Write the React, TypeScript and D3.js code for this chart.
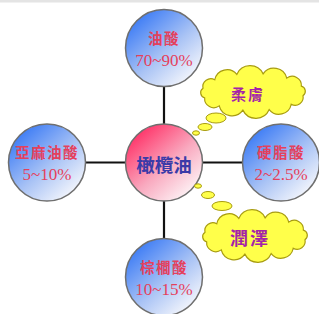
import React from "react";
import * as d3 from "d3";

const centerLabel = "橄欖油";
const acidNames = ["油酸", "亞麻油酸", "硬脂酸", "棕櫚酸"];
const acidRanges = ["70~90%", "5~10%", "2~2.5%", "10~15%"];
const acidDirX = [0, -1, 1, 0];
const acidDirY = [-1, 0, 0, 1];
const notes = ["柔膚", "潤澤"];
const noteSizes = [15, 18];

const W = 319, H = 314;
const x = d3.scaleLinear().domain([-1, 1]).range([47, 281]);
const y = d3.scaleLinear().domain([-1, 1]).range([48, 277]);
const R = 38.5;

function cloudPath(cx: number, cy: number, rx: number, ry: number, n: number) {
  const pts = d3.range(n).map((i) => {
    const t = (2 * Math.PI * i) / n + 0.2;
    return [cx + rx * Math.cos(t), cy + ry * Math.sin(t)];
  });
  let d = `M${pts[0][0]},${pts[0][1]}`;
  for (let i = 0; i < n; i++) {
    const a = pts[i], b = pts[(i + 1) % n];
    const dist = Math.hypot(b[0] - a[0], b[1] - a[1]);
    const r = dist * 0.55;
    d += ` A${r},${r} 0 0 1 ${b[0]},${b[1]}`;
  }
  return d + "Z";
}

const noteCenters = [
  { cx: 253, cy: 92, bubbles: [[216, 118, 10, 5], [205, 127, 7, 3.5], [196, 133, 3.5, 2.2]] },
  { cx: 255, cy: 236, bubbles: [[198, 186, 3.5, 2.2], [208, 195, 6.5, 3.5], [222, 206, 10, 4.5]] },
];

export default function App() {
  const cx0 = x(0), cy0 = y(0);
  return (
    <svg width={W} height={H} style={{ position: "absolute", left: 0, top: 0 }}>
      <defs>
        <linearGradient id="blueG" x1="0.15" y1="0.1" x2="0.85" y2="0.9">
          <stop offset="0" stopColor="#3d7cf5" />
          <stop offset="0.55" stopColor="#a9c3f5" />
          <stop offset="1" stopColor="#f4f6fc" />
        </linearGradient>
        <linearGradient id="pinkG" x1="0.15" y1="0.1" x2="0.85" y2="0.9">
          <stop offset="0" stopColor="#ff3368" />
          <stop offset="0.55" stopColor="#f9a9bf" />
          <stop offset="1" stopColor="#fdf2f5" />
        </linearGradient>
      </defs>
      <rect width={W} height={H} fill="#ffffff" />
      <line x1={0} x2={W} y1={1} y2={1} stroke="#e4e4e4" strokeWidth={3} />
      <line x1={x(-1)} x2={x(1)} y1={cy0} y2={cy0} stroke="#111" strokeWidth={2.2} />
      <line x1={cx0} x2={cx0} y1={y(-1)} y2={y(1)} stroke="#111" strokeWidth={2.2} />
      {acidNames.map((n, i) => {
        const cx = x(acidDirX[i]), cy = y(acidDirY[i]);
        return (
          <g key={n}>
            <circle cx={cx} cy={cy} r={R} fill="url(#blueG)" stroke="#6f6f6f" strokeWidth={1.5} />
            <text x={cx} y={cy - 11} textAnchor="middle" dominantBaseline="central"
              fontFamily="'Noto Sans CJK TC'" fontWeight="bold" fontSize={14.5} letterSpacing={1.5}
              fill="#e5405c">{n}</text>
            <text x={cx} y={cy + 12} textAnchor="middle" dominantBaseline="central"
              fontFamily="'Liberation Serif'" fontSize={17}
              fill="#e5405c">{acidRanges[i]}</text>
          </g>
        );
      })}
      <circle cx={cx0} cy={cy0} r={R} fill="url(#pinkG)" stroke="#6f6f6f" strokeWidth={1.5} />
      <text x={cx0} y={cy0 + 1} textAnchor="middle" dominantBaseline="central"
        fontFamily="'Noto Sans CJK TC'" fontWeight="bold" fontSize={18.5}
        fill="#3b3ba8">{centerLabel}</text>
      {notes.map((t, i) => {
        const c = noteCenters[i];
        return (
          <g key={t}>
            {c.bubbles.map((b, j) => (
              <ellipse key={j} cx={b[0]} cy={b[1]} rx={b[2]} ry={b[3]} fill="#ffff4a" stroke="#a89c10" strokeWidth={1} />
            ))}
            <path d={cloudPath(c.cx, c.cy, 51, 18.5, 12)} fill="#ffff4a" stroke="#a89c10" strokeWidth={1.2} />
            <text x={c.cx - 5} y={c.cy + 1} textAnchor="middle" dominantBaseline="central"
              fontFamily="'Noto Sans CJK TC'" fontWeight="bold" fontSize={noteSizes[i]} letterSpacing={2}
              fill="#a424a8">{t}</text>
          </g>
        );
      })}
    </svg>
  );
}
